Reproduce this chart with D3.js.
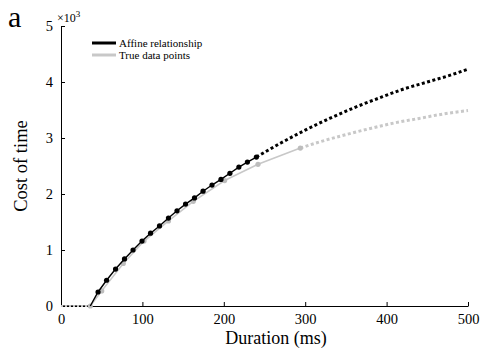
<!DOCTYPE html>
<html>
<head>
<meta charset="utf-8">
<script src="https://cdn.jsdelivr.net/npm/d3@7"></script>
<style>
  html, body { margin: 0; padding: 0; background: #fff; }
  svg { display: block; font-family: "Liberation Serif", "Times New Roman", serif; }
  svg text { font-family: "Liberation Serif", "Times New Roman", serif; }
</style>
</head>
<body>
<svg id="chart" width="482" height="351"></svg>
<script>
// Affine model samples (duration in ms, cost in thousands)
const affineDur  = [45.5, 56, 67, 78, 88.5, 99.5, 110, 121, 132, 142.5, 153, 164, 174.5, 185.5, 196.5, 207.5, 218.5, 229, 240];
const affineCost = [0.25, 0.46, 0.66, 0.84, 1.00, 1.16, 1.30, 1.43, 1.57, 1.70, 1.82, 1.93, 2.05, 2.16, 2.26, 2.37, 2.48, 2.57, 2.66];

// Affine model extrapolated beyond the sampled range
const affineExtDur  = [240, 270, 300, 330, 360, 390, 420, 450, 480, 500];
const affineExtCost = [2.66, 2.91, 3.14, 3.35, 3.54, 3.71, 3.87, 4.00, 4.13, 4.23];

// Measured data points
const trueDur  = [36, 50, 76.5, 102, 132, 162.5, 201, 242, 294];
const trueCost = [0.00, 0.27, 0.76, 1.16, 1.52, 1.87, 2.24, 2.53, 2.82];

// Measured curve extrapolated
const trueExtDur  = [294, 320, 350, 380, 410, 440, 470, 500];
const trueExtCost = [2.82, 2.94, 3.06, 3.17, 3.27, 3.35, 3.43, 3.49];

// Zero-cost segment below threshold
const flatDur  = [0, 36];
const flatCost = [0, 0];

const xTicks = [0, 100, 200, 300, 400, 500];
const yTicks = [0, 1, 2, 3, 4, 5];

const legendLabels = ["Affine relationship", "True data points"];

const BLACK = "#000000";
const GRAY = "#c8c8c8";
const SERIF = '"Liberation Serif", "Times New Roman", serif';

const svg = d3.select("#chart");
const m = { left: 61, right: 468, top: 26, bottom: 306 };

const x = d3.scaleLinear().domain([0, 500]).range([m.left, m.right]);
const y = d3.scaleLinear().domain([0, 5]).range([m.bottom, m.top]);

const zip = (a, b) => a.map((d, i) => [d, b[i]]);
const line = d3.line().x(d => x(d[0])).y(d => y(d[1]));

// Axes with inward ticks
const xAxis = svg.append("g").attr("transform", `translate(0,${m.bottom})`)
  .call(d3.axisBottom(x).tickValues(xTicks).tickFormat(d3.format("d"))
    .tickSize(-4).tickPadding(8).tickSizeOuter(0));
const yAxis = svg.append("g").attr("transform", `translate(${m.left},0)`)
  .call(d3.axisLeft(y).tickValues(yTicks).tickFormat(d3.format("d"))
    .tickSize(-4).tickPadding(8).tickSizeOuter(0));

[xAxis, yAxis].forEach(g => {
  g.attr("font-family", null).attr("font-size", null);
  g.select(".domain").attr("stroke", BLACK).attr("stroke-width", 1);
  g.selectAll(".tick line").attr("stroke", BLACK);
  g.selectAll(".tick text")
    .style("font-family", SERIF)
    .style("font-size", "14.5px").attr("fill", BLACK);
});
xAxis.selectAll(".tick text").attr("dy", "0.71em");

// Exponent label
const expo = svg.append("text").attr("x", 57).attr("y", 22)
  .style("font-size", "12px").attr("fill", BLACK);
expo.append("tspan").text("×10");
expo.append("tspan").attr("dy", -5).style("font-size", "9px").text("3");

// Axis titles
svg.append("text").attr("x", 276).attr("y", 344)
  .attr("text-anchor", "middle").style("font-size", "18px").attr("fill", BLACK)
  .text("Duration (ms)");
svg.append("text")
  .attr("transform", `translate(27,${(m.top + m.bottom) / 2}) rotate(-90)`)
  .attr("text-anchor", "middle").style("font-size", "18.5px").attr("fill", BLACK)
  .text("Cost of time");

// Panel letter
svg.append("text").attr("x", 8).attr("y", 27).style("font-size", "30px").attr("fill", BLACK).text("a");

const plot = svg.append("g");

// Flat segment: interleaved gray and black dots
plot.append("path").datum(zip(flatDur, flatCost)).attr("d", line)
  .attr("fill", "none").attr("stroke", GRAY).attr("stroke-width", 2)
  .attr("stroke-dasharray", "2,2");
plot.append("path").datum(zip(flatDur, flatCost)).attr("d", line)
  .attr("fill", "none").attr("stroke", BLACK).attr("stroke-width", 2)
  .attr("stroke-dasharray", "2,2").attr("stroke-dashoffset", 2).attr("opacity", 0.6);

// Extrapolations (dotted)
plot.append("path").datum(zip(trueExtDur, trueExtCost)).attr("d", line.curve(d3.curveMonotoneX))
  .attr("fill", "none").attr("stroke", GRAY).attr("stroke-width", 3)
  .attr("stroke-dasharray", "3,2.5");
plot.append("path").datum(zip(affineExtDur, affineExtCost)).attr("d", line.curve(d3.curveMonotoneX))
  .attr("fill", "none").attr("stroke", BLACK).attr("stroke-width", 3)
  .attr("stroke-dasharray", "3,2.5");

line.curve(d3.curveLinear);

// Measured curve
plot.append("path").datum(zip(trueDur, trueCost)).attr("d", line)
  .attr("fill", "none").attr("stroke", GRAY).attr("stroke-width", 1.6);
plot.selectAll(".tdot").data(zip(trueDur, trueCost)).join("circle")
  .attr("cx", d => x(d[0])).attr("cy", d => y(d[1])).attr("r", 2.6)
  .attr("fill", "#bdbdbd");

// Affine curve, starting at the end of the flat segment
const affinePts = [[flatDur[1], 0]].concat(zip(affineDur, affineCost));
plot.append("path").datum(affinePts).attr("d", line)
  .attr("fill", "none").attr("stroke", BLACK).attr("stroke-width", 1.4);
plot.selectAll(".adot").data(zip(affineDur, affineCost)).join("circle")
  .attr("cx", d => x(d[0])).attr("cy", d => y(d[1])).attr("r", 2.6)
  .attr("fill", BLACK);

// Legend
const legend = svg.append("g");
[BLACK, GRAY].forEach((c, i) => {
  const ly = 43 + i * 12;
  legend.append("line").attr("x1", 92).attr("x2", 116).attr("y1", ly).attr("y2", ly)
    .attr("stroke", c).attr("stroke-width", 3);
  legend.append("text").attr("x", 119).attr("y", ly + 4)
    .style("font-size", "11px").attr("fill", BLACK).text(legendLabels[i]);
});
</script>
</body>
</html>
